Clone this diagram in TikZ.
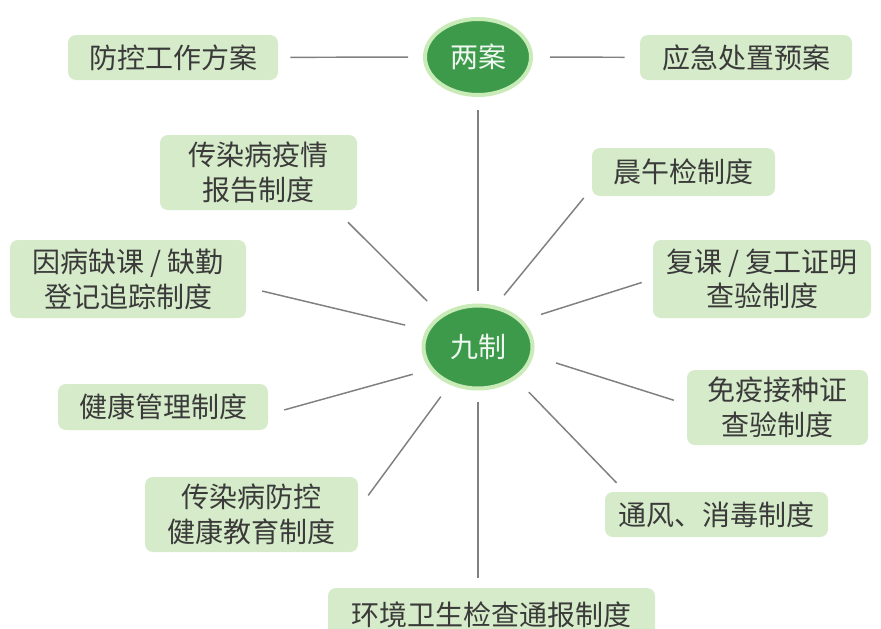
\documentclass[tikz,border=0pt]{standalone}
\usepackage{fontspec}
\newfontfamily\cjk{Noto Sans CJK SC}
\usetikzlibrary{shapes.geometric}
\definecolor{hubgreen}{HTML}{3D9A4B}
\definecolor{hubrim}{HTML}{C9EBB8}
\definecolor{boxgreen}{HTML}{D6EBC9}
\definecolor{txtgray}{HTML}{3A3A3A}
\definecolor{linegray}{HTML}{808080}
\tikzset{
  hub/.style={ellipse, fill=hubgreen, draw=hubrim, line width=3pt, inner sep=0pt,
    text=white!92!hubgreen, font=\cjk\fontsize{21}{26}\selectfont},
  item/.style={rounded corners=6pt, fill=boxgreen, inner sep=0pt, align=center,
    text=txtgray, font=\cjk\fontsize{21}{26}\selectfont},
  spoke/.style={draw=linegray, line width=1.1pt}
}
\begin{document}
\begin{tikzpicture}[x=0.75pt, y=-0.75pt]
  \clip (0,0) rectangle (881,628);
  \fill[white] (0,0) rectangle (881,628);
  % centres
  \node[hub, minimum width=79.5pt, minimum height=57pt] (liang) at (478,57) {两案};
  \node[hub, minimum width=81.75pt, minimum height=62.25pt] (jiu) at (478,347) {九制};
  % two plans
  \node[item, minimum width=157.5pt, minimum height=33.75pt] (fangkong) at (173,57.5) {防控工作方案};
  \node[item, minimum width=159pt, minimum height=33.75pt] (yingji) at (746,57.5) {应急处置预案};
  % nine rules
  \node[item, minimum width=147.75pt, minimum height=56.25pt] (baogao) at (258.5,172.5) {传染病疫情\\报告制度};
  \node[item, minimum width=137.25pt, minimum height=36pt] (chenwu) at (683.5,172) {晨午检制度};
  \node[item, minimum width=177pt, minimum height=58.5pt] (zhuizong) at (128,279) {因病缺课 / 缺勤\\登记追踪制度};
  \node[item, minimum width=163.5pt, minimum height=58.5pt] (fuke) at (762,279) {复课 / 复工证明\\查验制度};
  \node[item, minimum width=157.5pt, minimum height=34.5pt] (jiankang) at (163,407) {健康管理制度};
  \node[item, minimum width=135.75pt, minimum height=56.25pt] (mianyi) at (777.5,407.5) {免疫接种证\\查验制度};
  \node[item, minimum width=159.75pt, minimum height=56.25pt] (jiaoyu) at (251.5,514.5) {传染病防控\\健康教育制度};
  \node[item, minimum width=167.25pt, minimum height=33.75pt] (tongfeng) at (716.5,514.5) {通风、消毒制度};
  \node[item, minimum width=245.25pt, minimum height=45pt, text depth=0pt] (huanjing) at (491.5,618) {\raisebox{6pt}{环境卫生检查通报制度}};
  % links
  \draw[spoke, shorten <=9pt, shorten >=11.25pt] (fangkong) -- (liang);
  \draw[spoke, shorten <=12.75pt, shorten >=11.25pt] (liang) -- (yingji);
  \draw[spoke, shorten <=9.75pt, shorten >=9.4pt] (liang) -- (jiu);
  \foreach \ang/\dest/\at/\sa/\sb in {139/baogao/-26/14.25/12.75, 67.5/chenwu/190.7/10.1/9.45,
      31.6/fuke/180/14.6/8.7, 162/zhuizong/-4.5/16/12.3, 205.7/jiankang/-4.6/13.2/12.45,
      -9.4/mianyi/178.5/17.85/10.2, 233/jiaoyu/3.2/11.2/12.6, -40/tongfeng/166.5/13.6/9.3}
    \draw[spoke, shorten <=\sa pt, shorten >=\sb pt] (jiu.\ang) -- (\dest.\at);
  \draw[spoke, shorten <=8.6pt, shorten >=7.5pt] (jiu.south) -- (jiu.south |- huanjing.north);
\end{tikzpicture}
\end{document}
